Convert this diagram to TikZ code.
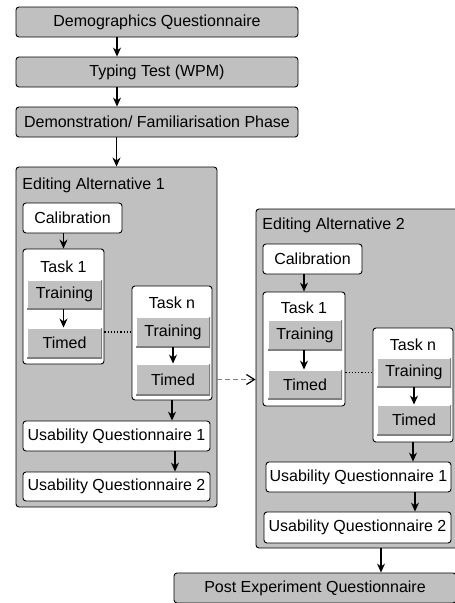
\documentclass[tikz,border=0pt]{standalone}
\usepackage{fontspec}
\setmainfont{Liberation Sans}
\usepackage{xcolor}
\usetikzlibrary{positioning,arrows.meta,calc}
\definecolor{boxgray}{RGB}{192,192,192}
\definecolor{shadegray}{RGB}{128,128,128}

\begin{document}
\begin{tikzpicture}[x=1pt,y=-1pt,line width=0.9pt,
    font=\fontsize{16}{18}\selectfont,
    phase/.style={rectangle,rounded corners=3pt,draw,fill=boxgray,inner sep=0pt,minimum height=30pt},
    block/.style={rectangle,rounded corners=3pt,draw,fill=boxgray,inner sep=0pt},
    step box/.style={rectangle,rounded corners=3pt,draw,fill=white,inner sep=0pt,minimum height=30pt},
    taskbox/.style={rectangle,rounded corners=3pt,draw,fill=white,inner sep=0pt},
    btn/.style={rectangle,fill=boxgray,inner sep=0pt,minimum height=30pt,
        path picture={
            \draw[white,line width=1.5pt] (path picture bounding box.south west) -- (path picture bounding box.north west) -- (path picture bounding box.north east);
            \draw[shadegray,line width=2.5pt] (path picture bounding box.north east) -- (path picture bounding box.south east) -- (path picture bounding box.south west);}},
    arr/.style={-{Stealth[length=9pt,width=8pt]},line width=1.2pt}]

    \useasboundingbox (0,0) rectangle (455,603);
    \clip (0,0) rectangle (455,603);

    \node[phase,minimum width=282pt] (demog) at (157,22) {Demographics Questionnaire};
    \node[phase,minimum width=282pt] (typing) at (157,72) {Typing Test (WPM)};
    \node[phase,minimum width=282pt] (demo) at (157,122) {Demonstration/ Familiarisation Phase};

    % editing alternative 1
    \node[block,minimum width=201pt,minimum height=340pt] (alta) at (116.5,337) {};
    \node[anchor=west,inner sep=0pt] (altalbl) at (22,185) {Editing Alternative 1};
    \node[step box,minimum width=99pt] (calA) at (72.5,218) {Calibration};
    \node[taskbox,minimum width=81pt,minimum height=115pt] (taskAa) at (63.5,306.5) {};
    \node[inner sep=0pt] (taskAalbl) at (63.5,267) {Task 1};
    \node[btn,minimum width=75pt,minimum height=29pt] (trainAa) at (64.5,294.5) {Training};
    \node[btn,minimum width=75pt] (timedAa) at (64.5,343) {Timed};
    \node[taskbox,minimum width=80pt,minimum height=114pt] (taskAn) at (172,343) {};
    \node[inner sep=0pt] (taskAnlbl) at (172,303) {Task n};
    \node[btn,minimum width=74pt] (trainAn) at (173,332) {Training};
    \node[btn,minimum width=74pt,minimum height=31pt] (timedAn) at (173,379.5) {Timed};
    \node[step box,minimum width=187pt] (usaAa) at (116.5,436) {Usability Questionnaire 1};
    \node[step box,minimum width=187pt,minimum height=29pt] (usaAb) at (116.5,486.5) {Usability Questionnaire 2};

    % editing alternative 2
    \node[block,minimum width=202pt,minimum height=339pt] (altb) at (357,378.5) {};
    \node[anchor=west,inner sep=0pt] (altblbl) at (262,225) {Editing Alternative 2};
    \node[step box,minimum width=99pt] (calB) at (312.5,259) {Calibration};
    \node[taskbox,minimum width=82pt,minimum height=114pt] (taskBa) at (304,349) {};
    \node[inner sep=0pt] (taskBalbl) at (304,308) {Task 1};
    \node[btn,minimum width=74pt] (trainBa) at (305,335) {Training};
    \node[btn,minimum width=74pt,minimum height=29pt] (timedBa) at (305,384.5) {Timed};
    \node[taskbox,minimum width=80pt,minimum height=114pt] (taskBn) at (413,385) {};
    \node[inner sep=0pt] (taskBnlbl) at (413,345) {Task n};
    \node[btn,minimum width=74pt,minimum height=29pt] (trainBn) at (414,372.5) {Training};
    \node[btn,minimum width=74pt] (timedBn) at (414,420) {Timed};
    \node[step box,minimum width=185pt] (usaBa) at (358.5,477) {Usability Questionnaire 1};
    \node[step box,minimum width=187pt,minimum height=31pt] (usaBb) at (357.5,527.5) {Usability Questionnaire 2};

    \node[phase,minimum width=282pt] (post) at (315,588) {Post Experiment Questionnaire};

    \draw[arr] ([xshift=-40pt]demog.south) -- ([xshift=-40pt]typing.north);
    \draw[arr] ([xshift=-40pt]typing.south) -- ([xshift=-40pt]demo.north);
    \draw[arr] (demo.south -| alta.north) -- (alta.north);

    \draw[arr] (calA.south -| taskAa.north) -- (taskAa.north);
    \draw[arr] (trainAa.south -| taskAa.north) -- (timedAa.north -| taskAa.north);
    \draw[arr] (trainAn) -- (timedAn);
    \draw[line width=1.2pt,dotted] (taskAa.east |- trainAn.west) -- (taskAn.west |- trainAn.west);
    \draw[arr] (taskAn.south) -- (usaAa.north -| taskAn.south);
    \draw[arr] ([xshift=3pt]usaAa.south -| taskAn.south) -- ([xshift=3pt]usaAb.north -| taskAn.south);

    \draw[arr] (calB.south -| taskBa.north) -- (taskBa.north);
    \draw[arr] (trainBa.south -| taskBa.north) -- (timedBa.north -| taskBa.north);
    \draw[arr] (trainBn) -- (timedBn);
    \draw[line width=1.2pt,dotted] (taskBa.east |- trainBn.west) -- (taskBn.west |- trainBn.west);
    \draw[arr] (taskBn.south) -- (usaBa.north -| taskBn.south);
    \draw[arr] ([xshift=2pt]usaBa.south -| taskBn.south) -- ([xshift=2pt]usaBb.north -| taskBn.south);

    \draw[line width=1.2pt,dash pattern=on 5pt off 3pt,shadegray,-{Straight Barb[length=8pt,width=10pt,black]}] (alta.east |- timedAn) -- (altb.west |- timedAn);
    \draw[arr] ([xshift=24pt]altb.south) -- ([xshift=24pt]altb.south |- post.north);

\end{tikzpicture}
\end{document}
